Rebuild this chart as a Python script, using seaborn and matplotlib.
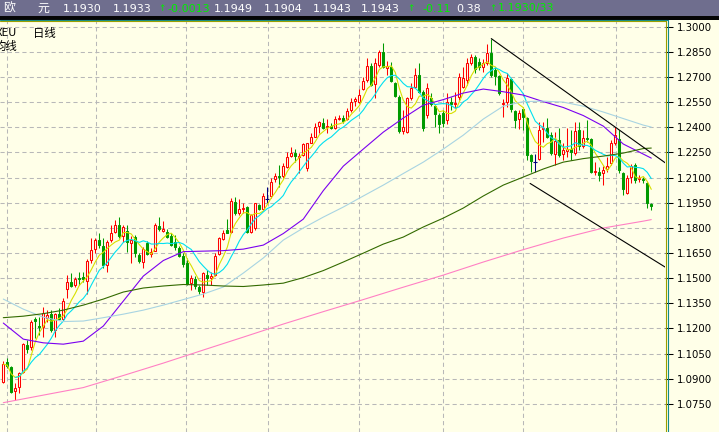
import numpy as np
import pandas as pd
import matplotlib
matplotlib.use("Agg")
import matplotlib.pyplot as plt
from matplotlib.patches import Rectangle
from matplotlib.lines import Line2D
import seaborn as sns

# ---- daily EUR candles ----
opens = [1.0880, 1.1001, 1.0971, 1.0826, 1.0848, 1.0941, 1.1100, 1.1087, 1.1256, 1.1214,
         1.1210, 1.1260, 1.1283, 1.1190, 1.1283, 1.1258, 1.1433, 1.1476, 1.1458, 1.1502,
         1.1504, 1.1482, 1.1608, 1.1671, 1.1727, 1.1691, 1.1578, 1.1727, 1.1777, 1.1816,
         1.1751, 1.1781, 1.1711, 1.1747, 1.1637, 1.1597, 1.1711, 1.1645, 1.1664, 1.1813,
         1.1783, 1.1777, 1.1753, 1.1715, 1.1677, 1.1631, 1.1588, 1.1472, 1.1497, 1.1448,
         1.1420, 1.1518, 1.1498, 1.1518, 1.1641, 1.1735, 1.1787, 1.1777, 1.1955, 1.1890,
         1.1912, 1.1926, 1.1777, 1.1797, 1.1936, 1.1910, 1.1972, 1.1990, 1.2089, 1.2111,
         1.2111, 1.2162, 1.2231, 1.2244, 1.2220, 1.2234, 1.2155, 1.2307, 1.2343, 1.2407,
         1.2427, 1.2399, 1.2409, 1.2397, 1.2449, 1.2457, 1.2447, 1.2503, 1.2556, 1.2553,
         1.2628, 1.2682, 1.2765, 1.2658, 1.2771, 1.2850, 1.2751, 1.2761, 1.2662, 1.2582,
         1.2379, 1.2373, 1.2572, 1.2638, 1.2711, 1.2610, 1.2473, 1.2574, 1.2526, 1.2473,
         1.2487, 1.2443, 1.2552, 1.2538, 1.2582, 1.2638, 1.2682, 1.2781, 1.2817, 1.2791,
         1.2757, 1.2785, 1.2845, 1.2741, 1.2706, 1.2538, 1.2552, 1.2686, 1.2498, 1.2447,
         1.2507, 1.2453, 1.2234, 1.2194, 1.2208, 1.2387, 1.2393, 1.2353, 1.2240, 1.2324,
         1.2238, 1.2260, 1.2270, 1.2248, 1.2383, 1.2288, 1.2337, 1.2328, 1.2131, 1.2135,
         1.2125, 1.2149, 1.2185, 1.2307, 1.2328, 1.2125, 1.2009, 1.2101, 1.2174, 1.2089,
         1.2093, 1.2069, 1.1943]
highs = [1.1005, 1.1023, 1.0975, 1.0874, 1.0941, 1.1114, 1.1130, 1.1250, 1.1268, 1.1270,
         1.1325, 1.1309, 1.1309, 1.1289, 1.1319, 1.1379, 1.1518, 1.1528, 1.1504, 1.1538,
         1.1536, 1.1612, 1.1737, 1.1737, 1.1767, 1.1737, 1.1727, 1.1816, 1.1846, 1.1862,
         1.1816, 1.1816, 1.1751, 1.1757, 1.1651, 1.1687, 1.1723, 1.1677, 1.1828, 1.1862,
         1.1842, 1.1791, 1.1767, 1.1757, 1.1691, 1.1647, 1.1623, 1.1518, 1.1512, 1.1458,
         1.1538, 1.1548, 1.1538, 1.1647, 1.1743, 1.1787, 1.1850, 1.1978, 1.1984, 1.1970,
         1.1950, 1.1930, 1.1880, 1.1950, 1.1942, 1.2009, 1.2041, 1.2095, 1.2125, 1.2174,
         1.2185, 1.2254, 1.2280, 1.2270, 1.2246, 1.2308, 1.2308, 1.2364, 1.2423, 1.2439,
         1.2453, 1.2447, 1.2423, 1.2467, 1.2473, 1.2473, 1.2513, 1.2572, 1.2582, 1.2626,
         1.2701, 1.2811, 1.2781, 1.2811, 1.2861, 1.2901, 1.2797, 1.2791, 1.2672, 1.2592,
         1.2503, 1.2582, 1.2662, 1.2751, 1.2781, 1.2622, 1.2664, 1.2604, 1.2538, 1.2487,
         1.2503, 1.2606, 1.2582, 1.2612, 1.2725, 1.2761, 1.2811, 1.2837, 1.2831, 1.2813,
         1.2805, 1.2896, 1.2929, 1.2761, 1.2711, 1.2566, 1.2722, 1.2692, 1.2503, 1.2503,
         1.2519, 1.2459, 1.2238, 1.2238, 1.2433, 1.2433, 1.2453, 1.2373, 1.2373, 1.2393,
         1.2304, 1.2393, 1.2383, 1.2433, 1.2433, 1.2383, 1.2443, 1.2334, 1.2194, 1.2164,
         1.2168, 1.2224, 1.2324, 1.2403, 1.2383, 1.2135, 1.2115, 1.2180, 1.2185, 1.2115,
         1.2105, 1.2075, 1.1949]
lows = [1.0874, 1.0963, 1.0814, 1.0772, 1.0814, 1.0933, 1.1055, 1.1071, 1.1142, 1.1160,
        1.1150, 1.1240, 1.1180, 1.1146, 1.1250, 1.1246, 1.1379, 1.1448, 1.1448, 1.1458,
        1.1476, 1.1405, 1.1588, 1.1647, 1.1677, 1.1558, 1.1538, 1.1717, 1.1767, 1.1737,
        1.1717, 1.1657, 1.1592, 1.1627, 1.1588, 1.1558, 1.1637, 1.1627, 1.1661, 1.1783,
        1.1777, 1.1737, 1.1691, 1.1667, 1.1624, 1.1568, 1.1458, 1.1429, 1.1435, 1.1405,
        1.1387, 1.1458, 1.1458, 1.1512, 1.1637, 1.1727, 1.1767, 1.1769, 1.1876, 1.1876,
        1.1886, 1.1767, 1.1767, 1.1787, 1.1906, 1.1906, 1.1946, 1.1978, 1.2075, 1.2045,
        1.2097, 1.2157, 1.2222, 1.2192, 1.2125, 1.2228, 1.2141, 1.2304, 1.2340, 1.2367,
        1.2387, 1.2364, 1.2387, 1.2387, 1.2443, 1.2427, 1.2443, 1.2493, 1.2526, 1.2546,
        1.2622, 1.2672, 1.2646, 1.2572, 1.2761, 1.2751, 1.2711, 1.2672, 1.2578, 1.2364,
        1.2359, 1.2364, 1.2562, 1.2632, 1.2602, 1.2377, 1.2455, 1.2526, 1.2403, 1.2364,
        1.2403, 1.2419, 1.2503, 1.2513, 1.2562, 1.2632, 1.2652, 1.2771, 1.2725, 1.2741,
        1.2731, 1.2771, 1.2701, 1.2652, 1.2592, 1.2463, 1.2522, 1.2493, 1.2393, 1.2387,
        1.2383, 1.2204, 1.2135, 1.2135, 1.2204, 1.2314, 1.2334, 1.2234, 1.2174, 1.2224,
        1.2204, 1.2224, 1.2204, 1.2234, 1.2264, 1.2274, 1.2312, 1.2125, 1.2115, 1.2081,
        1.2055, 1.2135, 1.2174, 1.2294, 1.2125, 1.1995, 1.2001, 1.2069, 1.2069, 1.2075,
        1.2065, 1.1916, 1.1904]
closes = [1.0987, 1.0975, 1.0822, 1.0846, 1.0935, 1.1106, 1.1077, 1.1238, 1.1247, 1.1208,
          1.1289, 1.1281, 1.1190, 1.1285, 1.1256, 1.1363, 1.1476, 1.1456, 1.1494, 1.1496,
          1.1492, 1.1602, 1.1667, 1.1727, 1.1697, 1.1578, 1.1717, 1.1771, 1.1816, 1.1751,
          1.1806, 1.1717, 1.1727, 1.1647, 1.1603, 1.1671, 1.1641, 1.1655, 1.1816, 1.1791,
          1.1796, 1.1743, 1.1695, 1.1685, 1.1634, 1.1582, 1.1467, 1.1500, 1.1455, 1.1423,
          1.1532, 1.1498, 1.1512, 1.1631, 1.1737, 1.1771, 1.1771, 1.1961, 1.1886, 1.1910,
          1.1920, 1.1777, 1.1876, 1.1946, 1.1910, 1.1990, 1.1972, 1.2075, 1.2109, 1.2105,
          1.2170, 1.2224, 1.2246, 1.2228, 1.2228, 1.2300, 1.2304, 1.2340, 1.2399, 1.2431,
          1.2397, 1.2405, 1.2393, 1.2449, 1.2457, 1.2437, 1.2497, 1.2549, 1.2568, 1.2592,
          1.2677, 1.2765, 1.2652, 1.2781, 1.2850, 1.2757, 1.2765, 1.2677, 1.2586, 1.2379,
          1.2403, 1.2572, 1.2632, 1.2711, 1.2612, 1.2395, 1.2632, 1.2538, 1.2479, 1.2419,
          1.2423, 1.2552, 1.2538, 1.2546, 1.2698, 1.2692, 1.2781, 1.2821, 1.2746, 1.2761,
          1.2781, 1.2845, 1.2711, 1.2706, 1.2602, 1.2546, 1.2692, 1.2507, 1.2443, 1.2487,
          1.2459, 1.2234, 1.2200, 1.2194, 1.2383, 1.2393, 1.2343, 1.2244, 1.2318, 1.2234,
          1.2264, 1.2270, 1.2254, 1.2379, 1.2288, 1.2334, 1.2330, 1.2135, 1.2139, 1.2115,
          1.2145, 1.2168, 1.2304, 1.2353, 1.2145, 1.2029, 1.2095, 1.2168, 1.2085, 1.2099,
          1.2085, 1.1950, 1.1930]

# ---- longer moving averages (sampled every 5 bars) ----
ma_idx = [0, 5, 10, 15, 20, 25, 30, 35, 40, 45, 50, 55, 60, 65, 70, 75, 80,
          85, 90, 95, 100, 105, 110, 115, 120, 125, 130, 135, 140, 145, 150, 155, 160, 162]
ma_purple = [1.1232, 1.1136, 1.1114, 1.1106, 1.1124, 1.1214, 1.1363, 1.1512, 1.1605, 1.1658,
             1.1661, 1.1664, 1.1673, 1.1697, 1.1766, 1.1852, 1.2022, 1.2168, 1.2270, 1.2371,
             1.2455, 1.2532, 1.2565, 1.2604, 1.2628, 1.2612, 1.2592, 1.2553, 1.2518, 1.2470,
             1.2407, 1.2300, 1.2240, 1.2216]
ma_lightblue = [1.1375, 1.1315, 1.1267, 1.1241, 1.1244, 1.1264, 1.1285, 1.1309, 1.1339, 1.1372,
                1.1405, 1.1447, 1.1530, 1.1620, 1.1727, 1.1799, 1.1864, 1.1924, 1.1990, 1.2055,
                1.2124, 1.2192, 1.2270, 1.2353, 1.2449, 1.2526, 1.2553, 1.2556, 1.2550, 1.2526,
                1.2491, 1.2452, 1.2413, 1.2401]
ma_darkgreen = [1.1264, 1.1273, 1.1288, 1.1309, 1.1339, 1.1375, 1.1417, 1.1441, 1.1453, 1.1462,
                1.1459, 1.1453, 1.1450, 1.1459, 1.1470, 1.1503, 1.1545, 1.1596, 1.1649, 1.1703,
                1.1745, 1.1805, 1.1858, 1.1918, 1.1990, 1.2055, 1.2103, 1.2151, 1.2192, 1.2213,
                1.2228, 1.2246, 1.2273, 1.2276]
pink_idx = [0, 10, 20, 30, 40, 50, 60, 70, 80, 90, 100, 110, 120, 130, 140, 150, 160, 162]
ma_pink = [1.0757, 1.0802, 1.0847, 1.0919, 1.0993, 1.1071, 1.1148, 1.1226, 1.1300, 1.1372,
           1.1446, 1.1518, 1.1596, 1.1670, 1.1739, 1.1799, 1.1840, 1.1849]

# ---- hand-drawn channel ----
channel_upper_x = [122, 165.6]
channel_upper_y = [1.2929, 1.2186]
channel_lower_x = [131.7, 165.6]
channel_lower_y = [1.2065, 1.1564]

# ---- axis labels ----
price_ticks = [1.0750, 1.0900, 1.1050, 1.1200, 1.1350, 1.1500, 1.1650, 1.1800,
               1.1950, 1.2100, 1.2250, 1.2400, 1.2550, 1.2700, 1.2850, 1.3000]
month_lines = [0.9, 23.2, 45.7, 66.2, 88.9, 109.9, 129.9, 153.2]

# ---- quote strip ----
quote_name = ["欧", "元"]
quote_fields = ["1.1930", "1.1933", "-0.0013", "1.1949", "1.1904", "1.1943",
                "1.1943", "-0.11", "0.38", "1.1930/33"]

W, H = 719, 432
BG = "#ffffe8"
RED = "#ff0000"
GREEN = "#009a00"
NAVY = "#000080"
CJK = ["Noto Sans CJK SC", "DejaVu Sans"]

sns.set_style("white")
plt.rcParams["font.family"] = ["DejaVu Sans", "Noto Sans CJK SC"]

fig = plt.figure(figsize=(W / 100, H / 100), dpi=100, facecolor=BG)


def fx(px):
    return px / W


def fy(py):
    return 1 - py / H


ax = fig.add_axes([0, 0, fx(665), (H - 21) / H])
ax.set_facecolor(BG)

o = np.array(opens)
h = np.array(highs)
l = np.array(lows)
c = np.array(closes)
x = np.arange(len(c))
up = c > o
down = c < o
flat = c == o

# grid
for p in price_ticks:
    ax.axhline(p, color="#b8b8b8", lw=0.75, ls=(0, (4, 3)), zorder=1)
for m in month_lines:
    ax.axvline(m, color="#b8b8b8", lw=0.75, ls=(0, (4, 3)), zorder=1)

# candles
wick_col = np.where(up, RED, np.where(down, GREEN, NAVY))
ax.vlines(x, l, h, colors=list(wick_col), linewidth=0.75, zorder=3)
ax.bar(x[up], (c - o)[up], bottom=o[up], width=0.55, facecolor=BG,
       edgecolor=RED, linewidth=0.75, zorder=4)
ax.bar(x[down], (c - o)[down], bottom=o[down], width=0.55, facecolor=GREEN,
       edgecolor=GREEN, linewidth=0.75, zorder=4)
ax.hlines(c[flat], x[flat] - 0.45, x[flat] + 0.45, colors=NAVY, linewidth=0.8, zorder=4)

# moving averages
df = pd.DataFrame({"bar": x, "close": c})
df["ma5"] = df["close"].rolling(5, min_periods=1).mean()
df["ma10"] = df["close"].rolling(10, min_periods=4).mean()
lw = 0.8
sns.lineplot(data=df, x="bar", y="ma5", ax=ax, color="#d8e000", lw=lw, zorder=5, legend=False)
sns.lineplot(data=df, x="bar", y="ma10", ax=ax, color="#00e0f0", lw=lw, zorder=5, legend=False)
sns.lineplot(x=ma_idx, y=ma_purple, ax=ax, color="#7a00f0", lw=lw, zorder=5,
             estimator=None, legend=False)
sns.lineplot(x=ma_idx, y=ma_lightblue, ax=ax, color="#a8d4e2", lw=lw, zorder=5,
             estimator=None, legend=False)
sns.lineplot(x=ma_idx, y=ma_darkgreen, ax=ax, color="#336a00", lw=lw, zorder=5,
             estimator=None, legend=False)
sns.lineplot(x=pink_idx, y=ma_pink, ax=ax, color="#ff80c4", lw=lw, zorder=5,
             estimator=None, legend=False)

# channel
ax.plot(channel_upper_x, channel_upper_y, color="black", lw=0.8, zorder=6)
ax.plot(channel_lower_x, channel_lower_y, color="black", lw=0.8, zorder=6)

ax.set_xlim(-0.825, 165.43)
ax.set_ylim(1.0582, 1.3034)
ax.set_xlabel("")
ax.set_ylabel("")
ax.set_xticks([])
ax.yaxis.tick_right()
ax.set_yticks(price_ticks)
ax.set_yticklabels([f"{p:.4f}" for p in price_ticks])
ax.tick_params(axis="y", right=True, left=False, length=5.5, width=0.75,
               color="black", pad=3.4, labelsize=7.3, labelcolor="black")
for s in ax.spines.values():
    s.set_visible(False)

# symbol caption (runs off the left edge of the panel)
ax.text(fx(-4) / fx(665), fy(33) * H / (H - 21), "XEU", transform=ax.transAxes,
        fontsize=8.2, va="center", ha="left", color="black", family=CJK, clip_on=True)
fig.text(fx(33), fy(33), "日线", fontsize=8.2, va="center", ha="left",
         color="black", family=CJK)
ax.text(fx(-5) / fx(665), fy(46) * H / (H - 21), "均线", transform=ax.transAxes,
        fontsize=8.2, va="center", ha="left", color="black", family=CJK, clip_on=True)

# quote strip across the top
fig.patches.append(Rectangle((0, fy(16)), 1, 16 / H, transform=fig.transFigure,
                             facecolor="#6f6e8e", edgecolor="none", zorder=0))
fig.patches.append(Rectangle((0, fy(19.5)), 1, 3.5 / H, transform=fig.transFigure,
                             facecolor="#050505", edgecolor="none", zorder=0))

# frame lines
fig.lines.append(Line2D([0, fx(667.5)], [fy(20), fy(20)], transform=fig.transFigure,
                        color="#128c8c", lw=0.8, zorder=10))
fig.lines.append(Line2D([fx(667.5), fx(667.5)], [fy(20), 0], transform=fig.transFigure,
                        color="#128c8c", lw=0.8, zorder=10))
fig.lines.append(Line2D([0, fx(665.5)], [fy(21.3), fy(21.3)], transform=fig.transFigure,
                        color="#9aa000", lw=0.8, zorder=10))
fig.lines.append(Line2D([fx(665.5), fx(665.5)], [fy(21.3), 0], transform=fig.transFigure,
                        color="#9aa000", lw=0.8, zorder=10))

ty = fy(8.5)
fig.text(fx(3), ty, quote_name[0], color="white", fontsize=8.6, va="center", family=CJK)
fig.text(fx(37), ty, quote_name[1], color="white", fontsize=8.6, va="center", family=CJK)
field_x = [63, 113, 167, 214, 264, 313, 361, 422, 456, 498]
field_green = [False, False, True, False, False, False, False, True, False, True]
for px, txt, g in zip(field_x, quote_fields, field_green):
    fig.text(fx(px), ty, txt, color="#00ee00" if g else "white", fontsize=8,
             va="center", ha="left")
for px in [161.5, 410.5, 493]:
    fig.text(fx(px), ty, "↑", color="#00ee00", fontsize=6.5, va="center", ha="center")

fig.savefig("out.png", dpi=100, facecolor=BG)
